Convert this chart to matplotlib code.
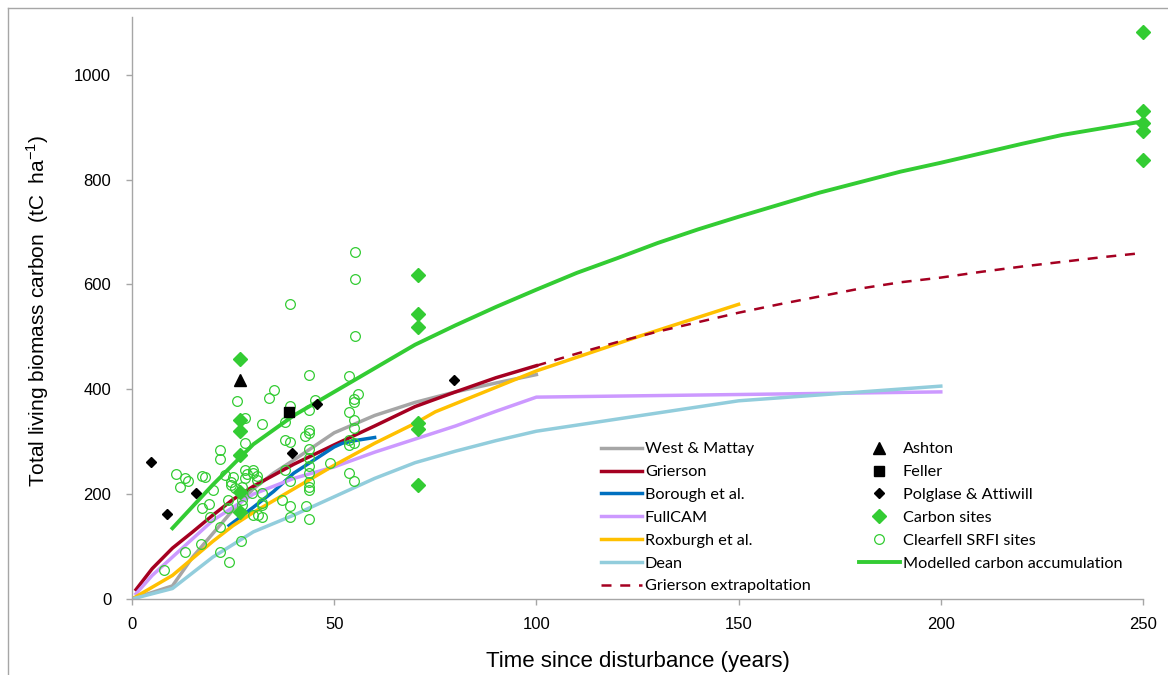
import matplotlib
matplotlib.use('Agg')
import matplotlib.pyplot as plt
from matplotlib.lines import Line2D

# ---------------- data ----------------
west_x = [0, 10, 15, 20, 25, 30, 35, 40, 50, 60, 70, 80, 90, 100]
west_y = [0, 25, 80, 125, 170, 210, 240, 265, 317, 350, 375, 395, 412, 428]

grier_x = [1, 5, 10, 15, 20, 25, 30, 40, 50, 60, 70, 80, 90, 100]
grier_y = [18, 58, 97, 128, 160, 190, 215, 257, 294, 330, 367, 395, 422, 445]

borough_x = [24, 30, 35, 40, 45, 50, 52, 55, 60]
borough_y = [140, 175, 205, 240, 265, 290, 297, 302, 308]

fullcam_x = [1, 5, 10, 20, 30, 40, 50, 60, 70, 80, 90, 100, 150, 200]
fullcam_y = [10, 45, 80, 150, 200, 230, 252, 280, 305, 330, 358, 385, 390, 395]

rox_x = [0, 10, 20, 25, 30, 40, 50, 60, 70, 75, 100, 125, 150]
rox_y = [0, 45, 110, 140, 165, 210, 255, 297, 335, 357, 435, 500, 562]

dean_x = [0, 10, 20, 30, 40, 50, 60, 70, 80, 90, 100, 150, 200]
dean_y = [0, 20, 80, 128, 160, 195, 230, 260, 282, 302, 320, 378, 406]

gext_x = [100, 110, 120, 130, 140, 150, 160, 170, 180, 190, 200, 210, 220, 230, 240, 250]
gext_y = [445, 468, 490, 510, 528, 546, 562, 577, 592, 604, 613, 624, 634, 643, 652, 660]

model_x = [10, 20, 30, 40, 50, 60, 70, 80, 90, 100, 110, 120, 130, 140, 150, 160, 170,
           180, 190, 200, 210, 220, 230, 240, 250]
model_y = [135, 218, 295, 350, 395, 440, 485, 522, 557, 590, 622, 650, 679, 705, 729, 752,
           775, 795, 815, 832, 850, 868, 885, 898, 911]

ashton_x = [26.7]
ashton_y = [417]

feller_x = [38.9]
feller_y = [356]

polg_x = [4.7, 8.6, 15.8, 39.6, 45.7, 79.6]
polg_y = [262, 162, 203, 279, 372, 417]

csite_x = [26.7, 26.7, 26.7, 26.7, 26.7, 26.7, 70.8, 70.8, 70.8, 70.8, 70.8, 70.8,
           250, 250, 250, 250, 250]
csite_y = [458, 342, 321, 274, 205, 165, 618, 544, 518, 335, 324, 218,
           1081, 931, 908, 893, 837]

srfi_x = [55.1, 55.1, 39.1, 55.1, 43.8, 53.7, 26, 35.1, 34, 56, 55, 55, 45.3, 39.1, 43.8,
          28, 53.7, 55, 32.1, 37.8, 55, 43.8, 43.8, 42.8, 28, 37.8, 39.1, 53.7, 55, 53.7,
          43.8, 43.8, 21.8, 21.8, 49, 43.8, 43.8, 30, 30, 28, 25, 11, 13.1, 13.9, 17.2,
          18, 11.9, 20.1, 23, 24.6, 24.6, 28, 30.8, 25.5, 27.1, 39.1, 43.8, 43.8, 43.8,
          37.8, 32.1, 23.8, 27.1, 29.6, 37, 32.1, 32.1, 17.2, 19.1, 23.8, 27.1, 39.1, 43,
          19.3, 30, 31.2, 32.1, 39.1, 43.8, 21.8, 53.7, 55, 17.1, 13.1, 21.8, 27, 24, 8,
          31, 28.5]
srfi_y = [661, 610, 563, 502, 428, 426, 377, 398, 384, 391, 381, 375, 380, 368, 361,
          345, 356, 342, 333, 338, 326, 323, 316, 310, 298, 303, 300, 303, 297, 294,
          286, 268, 284, 267, 259, 253, 240, 246, 241, 246, 232, 238, 230, 226, 235,
          232, 214, 207, 237, 224, 218, 230, 227, 211, 214, 226, 224, 214, 208,
          246, 202, 189, 188, 202, 188, 183, 180, 174, 181, 174, 179, 177, 177,
          156, 160, 160, 156, 156, 153, 137, 240, 226, 105, 90, 90, 111, 71, 55,
          235, 238]

x_ticks = [0, 50, 100, 150, 200, 250]
y_ticks = [0, 200, 400, 600, 800, 1000]

# ---------------- figure ----------------
W, H = 1168, 675
fig = plt.figure(figsize=(W / 100, H / 100), dpi=100)
fig.patch.set_facecolor('white')

# outer frame (left and top)
fig.add_artist(Line2D([8 / W, 8 / W], [0, 1 - 8 / H], transform=fig.transFigure,
                      color='#a6a6a6', lw=1))
fig.add_artist(Line2D([8 / W, 1], [1 - 8 / H, 1 - 8 / H], transform=fig.transFigure,
                      color='#a6a6a6', lw=1))

ax = fig.add_axes([132 / W, 1 - 599 / H, (1143 - 132) / W, (599 - 17) / H])

lw = 2.5
l_west, = ax.plot(west_x, west_y, color='#a6a6a6', lw=lw, label='West & Mattay', zorder=2)
l_grier, = ax.plot(grier_x, grier_y, color='#a50021', lw=lw, label='Grierson', zorder=2)
l_bor, = ax.plot(borough_x, borough_y, color='#0070c0', lw=lw, label='Borough et al.', zorder=2)
l_full, = ax.plot(fullcam_x, fullcam_y, color='#cc99ff', lw=lw, label='FullCAM', zorder=2)
l_rox, = ax.plot(rox_x, rox_y, color='#ffc000', lw=lw, label='Roxburgh et al.', zorder=2)
l_dean, = ax.plot(dean_x, dean_y, color='#92cddc', lw=lw, label='Dean', zorder=2)
l_gext, = ax.plot(gext_x, gext_y, color='#a50021', lw=1.8, ls=(0, (4, 3.5)),
                  label='Grierson extrapoltation', zorder=2)
l_model, = ax.plot(model_x, model_y, color='#33cc33', lw=2.8,
                   label='Modelled carbon accumulation', zorder=2.5)

m_ash, = ax.plot(ashton_x, ashton_y, ls='none', marker='^', ms=8, color='black',
                 label='Ashton', zorder=4)
m_fel, = ax.plot(feller_x, feller_y, ls='none', marker='s', ms=6.5, color='black',
                 label='Feller', zorder=4)
m_pol, = ax.plot(polg_x, polg_y, ls='none', marker='D', ms=4.6, color='black',
                 label='Polglase & Attiwill', zorder=4)
m_cs, = ax.plot(csite_x, csite_y, ls='none', marker='D', ms=6.8, color='#33cc33',
                label='Carbon sites', zorder=4, clip_on=False)
m_sr, = ax.plot(srfi_x, srfi_y, ls='none', marker='o', ms=7, mfc='none', mec='#33cc33',
                mew=0.9, label='Clearfell SRFI sites', zorder=3)

ax.set_xlim(0, 250)
ax.set_ylim(0, 1110)
ax.set_xticks(x_ticks)
ax.set_yticks(y_ticks)

for s in ['top', 'right']:
    ax.spines[s].set_visible(False)
for s in ['left', 'bottom']:
    ax.spines[s].set_color('#a6a6a6')
    ax.spines[s].set_linewidth(1.0)

tick_font = 'Liberation Sans'
ax.tick_params(axis='both', direction='out', length=4, width=1, color='#a6a6a6',
               labelsize=12, labelcolor='black')
ax.tick_params(axis='y', pad=11)
ax.tick_params(axis='x', pad=9)
for lab in ax.get_xticklabels() + ax.get_yticklabels():
    lab.set_fontfamily(tick_font)

fig.text(638 / W, 1 - 662 / H, 'Time since disturbance (years)', ha='center', va='center',
         fontsize=16, family='Liberation Sans')
fig.text(38 / W, 1 - 311 / H, r'Total living biomass carbon  (tC  ha$^{\mathregular{-1}}$)',
         ha='center', va='center', rotation=90, fontsize=15, family='Liberation Sans')

leg_kw = dict(frameon=False, prop={'family': 'Lato', 'size': 11.7},
              handlelength=2.5, handletextpad=0.2, labelspacing=0.52, borderpad=0,
              borderaxespad=0, loc='upper left', bbox_transform=fig.transFigure,
              numpoints=1)
leg1 = fig.legend(handles=[l_west, l_grier, l_bor, l_full, l_rox, l_dean, l_gext],
                  bbox_to_anchor=(601 / W, 1 - 442 / H), **leg_kw)
leg2 = fig.legend(handles=[m_ash, m_fel, m_pol, m_cs, m_sr, l_model],
                  bbox_to_anchor=(859 / W, 1 - 442 / H), **leg_kw)

fig.savefig('out.png', dpi=100, facecolor='white')
